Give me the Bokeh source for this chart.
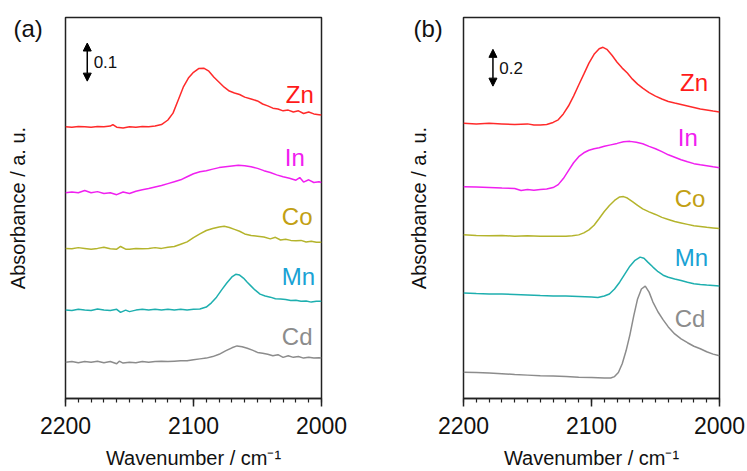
from bokeh.plotting import figure
from bokeh.models import Range1d, FixedTicker, Arrow, NormalHead, Label, ColumnDataSource, LinearAxis
from bokeh.layouts import row
from bokeh.embed import file_html
from bokeh.resources import INLINE
from bokeh.core.properties import value

FONT = "Liberation Sans"

# ---------------- Panel (a) data (absorbance with vertical offsets) ----------------
a_zn_wn = [2200, 2195, 2190, 2185, 2180, 2175, 2170, 2165, 2163, 2160, 2155, 2150, 2145, 2140, 2135, 2130,
           2125, 2120, 2116, 2112, 2108, 2104, 2100, 2096, 2092, 2088, 2084, 2080, 2076, 2072, 2068, 2064,
           2060, 2055, 2050, 2046, 2042, 2038, 2034, 2030, 2026, 2022, 2018, 2014, 2010, 2006, 2002, 2000]
a_zn_y = [0.713, 0.712, 0.714, 0.713, 0.712, 0.714, 0.713, 0.715, 0.719, 0.712, 0.710, 0.713, 0.712, 0.714,
          0.713, 0.715, 0.719, 0.731, 0.749, 0.783, 0.817, 0.841, 0.856, 0.866, 0.867, 0.859, 0.843, 0.830,
          0.817, 0.807, 0.802, 0.798, 0.791, 0.786, 0.781, 0.773, 0.768, 0.762, 0.760, 0.755, 0.757, 0.752,
          0.755, 0.748, 0.752, 0.747, 0.745, 0.744]

a_in_wn = [2200, 2195, 2190, 2185, 2180, 2175, 2170, 2165, 2160, 2155, 2150, 2145, 2140, 2135, 2130, 2125,
           2120, 2115, 2110, 2105, 2100, 2095, 2090, 2085, 2080, 2075, 2070, 2065, 2060, 2055, 2050, 2045,
           2040, 2035, 2030, 2025, 2020, 2017, 2014, 2010, 2006, 2002, 2000]
a_in_y = [0.540, 0.542, 0.540, 0.546, 0.540, 0.543, 0.538, 0.540, 0.535, 0.542, 0.538, 0.544, 0.548, 0.551,
          0.555, 0.559, 0.564, 0.569, 0.574, 0.582, 0.590, 0.595, 0.598, 0.602, 0.606, 0.608, 0.610, 0.612,
          0.611, 0.608, 0.604, 0.598, 0.593, 0.587, 0.582, 0.578, 0.573, 0.580, 0.568, 0.574, 0.567, 0.569,
          0.567]

a_co_wn = [2200, 2195, 2190, 2185, 2180, 2175, 2170, 2165, 2160, 2157, 2153, 2150, 2145, 2140, 2135, 2130,
           2125, 2120, 2115, 2110, 2105, 2100, 2095, 2090, 2085, 2080, 2076, 2072, 2068, 2064, 2060, 2055,
           2050, 2045, 2040, 2036, 2032, 2028, 2024, 2020, 2016, 2012, 2008, 2004, 2000]
a_co_y = [0.394, 0.393, 0.396, 0.394, 0.392, 0.394, 0.397, 0.393, 0.392, 0.399, 0.392, 0.392, 0.394, 0.393,
          0.394, 0.396, 0.394, 0.397, 0.399, 0.405, 0.411, 0.422, 0.432, 0.441, 0.446, 0.450, 0.452, 0.449,
          0.444, 0.439, 0.432, 0.428, 0.426, 0.424, 0.419, 0.423, 0.416, 0.418, 0.415, 0.414, 0.415, 0.411,
          0.413, 0.410, 0.410]

a_mn_wn = [2200, 2195, 2190, 2185, 2180, 2175, 2170, 2165, 2160, 2157, 2153, 2150, 2145, 2140, 2135, 2130,
           2125, 2120, 2115, 2110, 2105, 2100, 2095, 2090, 2086, 2082, 2078, 2074, 2070, 2067, 2064, 2061,
           2058, 2055, 2052, 2048, 2044, 2040, 2036, 2032, 2028, 2024, 2020, 2016, 2012, 2008, 2004, 2000]
a_mn_y = [0.232, 0.231, 0.234, 0.232, 0.231, 0.235, 0.232, 0.231, 0.234, 0.226, 0.232, 0.228, 0.232, 0.234,
          0.232, 0.234, 0.232, 0.234, 0.232, 0.234, 0.232, 0.234, 0.235, 0.240, 0.251, 0.266, 0.285, 0.303,
          0.319, 0.326, 0.324, 0.316, 0.305, 0.295, 0.285, 0.274, 0.269, 0.266, 0.262, 0.261, 0.260, 0.257,
          0.258, 0.255, 0.256, 0.253, 0.255, 0.255]

a_cd_wn = [2200, 2195, 2190, 2185, 2180, 2175, 2170, 2165, 2160, 2158, 2155, 2150, 2145, 2140, 2135, 2130,
           2125, 2120, 2115, 2110, 2105, 2100, 2095, 2090, 2085, 2080, 2075, 2070, 2066, 2062, 2058, 2054,
           2050, 2046, 2042, 2038, 2034, 2030, 2026, 2022, 2018, 2014, 2010, 2006, 2002, 2000]
a_cd_y = [0.095, 0.097, 0.094, 0.097, 0.095, 0.098, 0.094, 0.097, 0.091, 0.098, 0.093, 0.095, 0.094, 0.097,
          0.095, 0.097, 0.098, 0.097, 0.098, 0.099, 0.099, 0.102, 0.104, 0.106, 0.110, 0.116, 0.125, 0.133,
          0.138, 0.136, 0.132, 0.127, 0.121, 0.119, 0.116, 0.112, 0.115, 0.108, 0.112, 0.108, 0.110, 0.106,
          0.108, 0.106, 0.107, 0.106]

# ---------------- Panel (b) data ----------------
b_zn_wn = [2200, 2190, 2180, 2170, 2160, 2150, 2145, 2140, 2135, 2130, 2126, 2122, 2118, 2114, 2110, 2106,
           2102, 2098, 2094, 2091, 2088, 2084, 2080, 2076, 2072, 2068, 2064, 2060, 2055, 2050, 2045, 2040,
           2035, 2030, 2025, 2020, 2015, 2010, 2005, 2000]
b_zn_y = [1.495, 1.492, 1.495, 1.492, 1.489, 1.492, 1.486, 1.486, 1.489, 1.500, 1.514, 1.546, 1.589, 1.643,
          1.703, 1.762, 1.822, 1.870, 1.900, 1.908, 1.897, 1.865, 1.827, 1.795, 1.768, 1.735, 1.708, 1.686,
          1.662, 1.643, 1.627, 1.614, 1.605, 1.597, 1.589, 1.581, 1.573, 1.568, 1.562, 1.557]

b_in_wn = [2200, 2190, 2180, 2170, 2160, 2155, 2150, 2145, 2140, 2135, 2130, 2126, 2122, 2118, 2114, 2110,
           2106, 2102, 2098, 2094, 2090, 2085, 2080, 2075, 2070, 2065, 2060, 2055, 2050, 2045, 2040, 2035,
           2030, 2025, 2020, 2015, 2010, 2005, 2000]
b_in_y = [1.151, 1.149, 1.146, 1.143, 1.141, 1.130, 1.135, 1.132, 1.135, 1.138, 1.146, 1.162, 1.195, 1.238,
          1.281, 1.314, 1.335, 1.349, 1.357, 1.362, 1.370, 1.378, 1.386, 1.395, 1.397, 1.392, 1.384, 1.370,
          1.357, 1.341, 1.324, 1.311, 1.297, 1.286, 1.276, 1.270, 1.265, 1.259, 1.254]

b_co_wn = [2200, 2190, 2180, 2170, 2160, 2150, 2140, 2130, 2120, 2115, 2110, 2106, 2102, 2098, 2094, 2090,
           2086, 2082, 2078, 2075, 2072, 2068, 2064, 2060, 2055, 2050, 2045, 2040, 2035, 2030, 2025, 2020,
           2015, 2010, 2005, 2000]
b_co_y = [0.889, 0.886, 0.884, 0.886, 0.881, 0.884, 0.881, 0.881, 0.881, 0.884, 0.889, 0.900, 0.916, 0.941,
          0.978, 1.016, 1.049, 1.076, 1.095, 1.097, 1.089, 1.070, 1.049, 1.030, 1.014, 1.000, 0.984, 0.973,
          0.962, 0.954, 0.946, 0.938, 0.935, 0.930, 0.927, 0.924]

b_mn_wn = [2200, 2190, 2180, 2170, 2160, 2150, 2140, 2130, 2120, 2110, 2100, 2095, 2090, 2086, 2082, 2078,
           2074, 2070, 2066, 2062, 2059, 2056, 2052, 2048, 2044, 2040, 2035, 2030, 2025, 2020, 2015, 2010,
           2005, 2000]
b_mn_y = [0.573, 0.570, 0.568, 0.568, 0.565, 0.562, 0.559, 0.557, 0.557, 0.554, 0.551, 0.549, 0.557, 0.568,
          0.595, 0.632, 0.676, 0.719, 0.751, 0.768, 0.762, 0.741, 0.714, 0.689, 0.670, 0.659, 0.649, 0.641,
          0.632, 0.624, 0.619, 0.616, 0.614, 0.611]

b_cd_wn = [2200, 2190, 2180, 2170, 2160, 2150, 2140, 2130, 2120, 2110, 2100, 2090, 2085, 2082, 2079, 2076,
           2073, 2070, 2067, 2064, 2061, 2058, 2055, 2052, 2048, 2044, 2040, 2035, 2030, 2025, 2020, 2015,
           2010, 2005, 2000]
b_cd_y = [0.143, 0.141, 0.138, 0.135, 0.130, 0.127, 0.124, 0.122, 0.119, 0.116, 0.114, 0.111, 0.111, 0.119,
          0.141, 0.189, 0.259, 0.346, 0.449, 0.541, 0.595, 0.611, 0.578, 0.524, 0.470, 0.427, 0.389, 0.351,
          0.324, 0.303, 0.284, 0.270, 0.254, 0.241, 0.232]

metals = ["Zn", "In", "Co", "Mn", "Cd"]
line_colors = ["#ff2a2a", "#f020f0", "#b4b42c", "#1eafaf", "#8c8c8c"]
text_colors = ["#ff1a1a", "#f020f0", "#c2a014", "#1aa2d4", "#8c8c8c"]

# label anchor positions (right edge, middle)
a_label_x = [2006, 2013, 2007, 2005, 2007]
a_label_y = [0.799, 0.632, 0.478, 0.321, 0.162]
b_label_x = [2009, 2017, 2011, 2009, 2011]
b_label_y = [1.719, 1.416, 1.086, 0.768, 0.432]

x_ticks = [2000, 2100, 2200]
x_minor = list(range(2000, 2201, 10))

a_scale = 0.1
b_scale = 0.2
a_y_max = 1.0
b_y_max = 2.07

a_curves = [(a_zn_wn, a_zn_y), (a_in_wn, a_in_y), (a_co_wn, a_co_y), (a_mn_wn, a_mn_y), (a_cd_wn, a_cd_y)]
b_curves = [(b_zn_wn, b_zn_y), (b_in_wn, b_in_y), (b_co_wn, b_co_y), (b_mn_wn, b_mn_y), (b_cd_wn, b_cd_y)]


def make_panel(curves, lab_x, lab_y, ymax, scale, arrow_x, arrow_y0, letter, letter_dx, ylab_standoff,
               width, border_left, border_right):
    p = figure(width=width, height=471, output_backend="svg", toolbar_location=None,
               x_range=Range1d(2200, 2000), y_range=Range1d(0, ymax), y_axis_location=None,
               min_border_left=border_left, min_border_right=border_right,
               min_border_top=17, min_border_bottom=71)
    p.grid.visible = False
    p.outline_line_color = "#222222"
    p.outline_line_width = 1.5
    p.background_fill_color = "white"
    p.border_fill_color = "white"

    for (wn, y), c in zip(curves, line_colors):
        p.line(wn, y, line_color=c, line_width=1.5)

    src = ColumnDataSource(dict(x=lab_x, y=lab_y, t=metals, c=text_colors))
    p.text(x="x", y="y", text="t", text_color="c", source=src, text_align="right",
           text_baseline="middle", text_font=value(FONT), text_font_size="24px")

    # x axis
    ax = p.xaxis[0]
    ax.ticker = FixedTicker(ticks=x_ticks, minor_ticks=x_minor)
    ax.axis_label = "Wavenumber / cm⁻¹"
    ax.axis_label_text_font = FONT
    ax.axis_label_text_font_size = "20px"
    ax.axis_label_text_font_style = "normal"
    ax.axis_label_text_color = "#111111"
    ax.axis_label_standoff = 10
    ax.major_label_text_font = FONT
    ax.major_label_text_font_size = "23px"
    ax.major_label_text_color = "#111111"
    ax.major_label_standoff = 10
    ax.major_tick_in = 0
    ax.major_tick_out = 8
    ax.minor_tick_in = 0
    ax.minor_tick_out = 4
    ax.axis_line_color = "#222222"
    ax.axis_line_width = 1.5
    ax.major_tick_line_color = "#222222"
    ax.minor_tick_line_color = "#222222"
    ax.major_tick_line_width = 1.5
    ax.minor_tick_line_width = 1.2

    # panel letter, in the left side panel (inner slot)
    p.add_layout(Label(x=letter_dx, y=370, x_units="screen", y_units="screen", text=letter,
                       text_font=FONT, text_font_size="24px", text_align="left",
                       text_baseline="middle", text_color="#111111"), "left")

    # y axis (outer slot)
    ay = LinearAxis(ticker=FixedTicker(ticks=[]))
    ay.axis_label = "Absorbance / a. u."
    ay.axis_label_text_font = FONT
    ay.axis_label_text_font_size = "20px"
    ay.axis_label_text_font_style = "normal"
    ay.axis_label_text_color = "#111111"
    ay.axis_label_standoff = ylab_standoff
    ay.major_tick_in = 0
    ay.major_tick_out = 0
    ay.minor_tick_in = 0
    ay.minor_tick_out = 0
    ay.axis_line_color = None
    p.add_layout(ay, "left")

    # scale bar
    p.add_layout(Arrow(start=NormalHead(size=8, fill_color="black", line_color="black"),
                       end=NormalHead(size=8, fill_color="black", line_color="black"),
                       x_start=arrow_x, y_start=arrow_y0, x_end=arrow_x, y_end=arrow_y0 + scale,
                       line_color="black", line_width=1.5))
    p.add_layout(Label(x=arrow_x - 5, y=arrow_y0 + scale / 2, text=f"{scale:.1f}", text_font=FONT,
                       text_font_size="17px", text_align="left", text_baseline="middle",
                       text_color="#111111"))
    return p


pa = make_panel(a_curves, a_label_x, a_label_y, a_y_max, a_scale, 2183, 0.833, "(a)", -23, 8,
                370, 65, 49)
pb = make_panel(b_curves, b_label_x, b_label_y, b_y_max, b_scale, 2177, 1.697, "(b)", -21, 5,
                377, 93, 28)

layout = row(pa, pb)
open("out.html", "w").write(file_html(layout, INLINE))
